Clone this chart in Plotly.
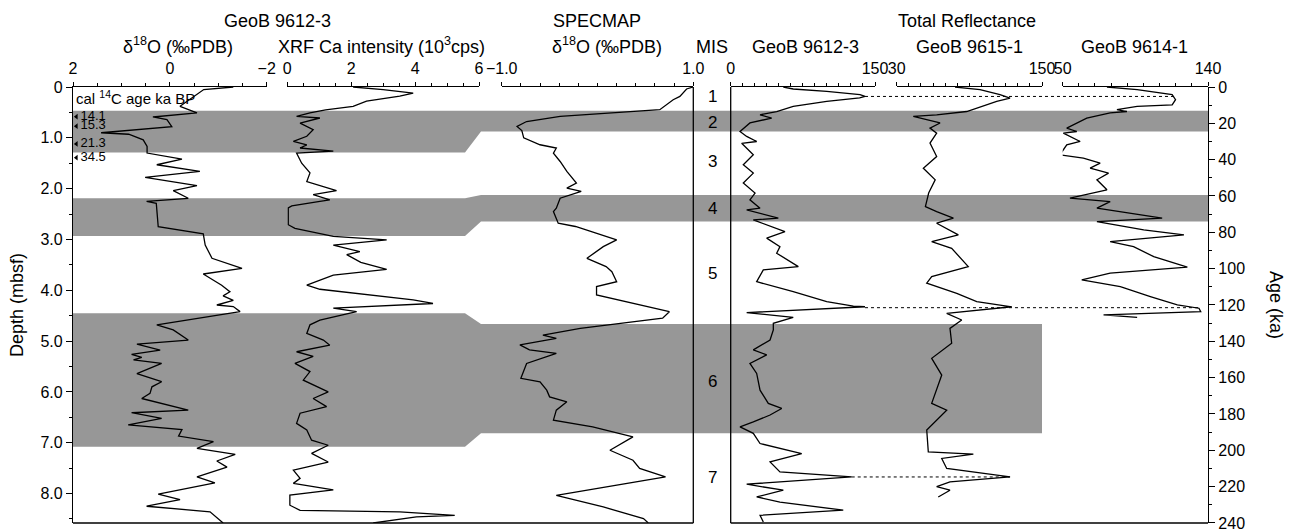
import plotly.graph_objects as go

# ---------------- data ----------------
# GeoB 9612-3 planktic d18O vs depth (mbsf)
D18O_DEPTH = [0.00, 0.05, 0.38, 0.51, 0.59, 0.64, 0.78, 0.88, 0.90, 0.93,
              1.04, 1.17, 1.30, 1.42, 1.53, 1.66, 1.78, 1.94, 2.04, 2.19,
              2.25, 2.29, 2.75, 2.89, 3.11, 3.37, 3.57, 3.68, 3.90, 4.03,
              4.11, 4.20, 4.29, 4.32, 4.42, 4.68, 4.78, 4.98, 5.06, 5.18,
              5.26, 5.32, 5.37, 5.44, 5.64, 5.80, 5.90, 6.03, 6.13, 6.36,
              6.41, 6.52, 6.65, 6.74, 6.87, 6.98, 7.11, 7.23, 7.36, 7.48,
              7.67, 7.79, 8.01, 8.12, 8.25, 8.36, 8.58]
D18O_VAL = [-1.31, -0.70, -0.21, -0.56, 0.35, 0.06, -0.04, 1.20, 1.42, 0.85,
            0.55, 0.47, 0.47, -0.25, 0.27, -0.62, 0.51, -0.56, -0.07, -0.38,
            0.48, 0.28, 0.24, -0.69, -0.73, -0.87, -1.49, -0.69, -1.07, -1.24,
            -1.10, -1.31, -0.97, -1.31, -1.45, 0.27, -0.07, -0.38, 0.68, 0.20,
            0.79, 0.58, 0.75, 0.17, 0.68, 0.17, 0.37, 0.41, 0.58, -0.38,
            0.79, 0.17, 0.86, -0.25, -0.18, -0.90, -0.56, -1.35, -0.97, -1.18,
            -0.56, -0.93, 0.24, -0.21, 0.48, -0.83, -1.10]

# GeoB 9612-3 XRF Ca intensity (10^3 cps) vs depth
XRF_DEPTH = [0.00, 0.05, 0.12, 0.18, 0.28, 0.38, 0.45, 0.51, 0.58, 0.61,
             0.71, 0.84, 0.97, 1.07, 1.14, 1.20, 1.26, 1.30, 1.50, 1.69,
             1.86, 1.99, 2.04, 2.12, 2.22, 2.25, 2.34, 2.38, 2.71, 2.78,
             2.94, 3.01, 3.11, 3.24, 3.30, 3.45, 3.59, 3.70, 3.90, 3.98,
             4.09, 4.19, 4.26, 4.35, 4.42, 4.59, 4.68, 4.85, 4.98, 5.08,
             5.21, 5.30, 5.44, 5.60, 5.77, 6.00, 6.13, 6.29, 6.42, 6.62,
             6.75, 6.95, 7.05, 7.21, 7.38, 7.54, 7.70, 7.80, 7.93, 8.03,
             8.23, 8.33, 8.36, 8.39, 8.43, 8.46, 8.53, 8.58]
XRF_VAL = [2.06, 3.00, 3.94, 3.52, 2.48, 2.06, 1.20, 0.71, 0.29, 1.02,
           0.40, 0.81, 0.61, 0.19, 0.61, 0.40, 1.44, 0.29, 0.45, 0.71,
           0.61, 1.33, 1.54, 0.81, 1.33, 1.02, 0.14, 0.03, 0.03, 0.24,
           1.44, 3.11, 1.44, 2.27, 1.86, 2.30, 3.11, 1.44, 0.61, 1.02,
           2.48, 3.94, 4.56, 1.44, 2.17, 1.02, 0.71, 0.61, 1.13, 1.33,
           0.29, 0.81, 0.24, 0.71, 0.50, 1.28, 0.81, 1.23, 0.40, 0.29,
           0.61, 0.76, 1.28, 0.76, 1.28, 0.19, 0.40, 0.19, 1.44, 0.08,
           0.08, 0.40, 3.52, 4.36, 5.24, 4.04, 3.31, 2.69]

# SPECMAP d18O vs age (ka)
SPEC_AGE = [0, 1.1, 5.2, 7.0, 12.5, 14.3, 16.2, 19.0, 21.7, 24.0,
            28.0, 31.8, 33.6, 36.4, 41.0, 46.5, 52.9, 55.7, 57.5, 61.2,
            66.7, 68.6, 75.0, 76.8, 80.5, 84.2, 87.9, 94.3, 98.9, 101.7,
            107.2, 109.9, 114.5, 119.1, 123.7, 127.3, 132.9, 136.6, 138.4, 142.0,
            144.7, 146.6, 152.2, 160.4, 162.3, 166.9, 170.6, 173.3, 177.9, 183.4,
            187.1, 192.6, 200.0, 205.5, 210.0, 214.7, 224.8, 231.2, 237.6, 240.0]
SPEC_VAL = [1.00, 0.93, 0.86, 0.79, 0.65, 0.13, -0.39, -0.74, -0.84, -0.79,
            -0.77, -0.60, -0.43, -0.46, -0.39, -0.32, -0.22, -0.32, -0.17, -0.39,
            -0.43, -0.46, -0.41, -0.23, -0.01, 0.20, 0.06, -0.11, 0.09, 0.15,
            0.20, -0.01, -0.01, 0.37, 0.75, 0.68, -0.18, -0.57, -0.43, -0.81,
            -0.71, -0.43, -0.74, -0.80, -0.60, -0.53, -0.50, -0.32, -0.43, -0.46,
            -0.05, 0.37, 0.13, 0.37, 0.44, 0.71, -0.43, 0.06, 0.48, 0.53]

# Total reflectance vs age
R12_AGE = [0, 1.1, 2.4, 4.2, 5.2, 6.0, 7.9, 10.7, 13.5, 15.3,
           17.1, 19.8, 24.5, 27.2, 30.0, 31.0, 37.3, 42.8, 47.4, 52.9,
           58.4, 62.1, 66.7, 67.6, 72.2, 73.2, 79.6, 83.2, 87.9, 91.5,
           98.9, 100.7, 107.2, 112.7, 118.2, 120.6, 121.0, 124.2, 126.8, 130.1,
           133.8, 139.3, 144.7, 147.5, 152.2, 157.7, 166.9, 174.2, 177.0, 180.6,
           184.4, 187.1, 190.7, 196.3, 201.8, 206.4, 211.9, 213.7, 214.7, 218.7,
           222.0, 225.7, 228.5, 233.0, 235.8, 239.5]
R12_VAL = [54.7, 65.0, 99.8, 134.4, 139.6, 134.0, 99.8, 65.0, 47.8, 30.5,
           42.6, 20.0, 9.7, 16.6, 27.0, 11.4, 23.5, 13.1, 23.5, 13.1,
           25.3, 20.0, 30.5, 16.6, 49.5, 23.5, 56.4, 37.4, 51.2, 47.8,
           70.3, 33.9, 27.0, 65.0, 99.8, 127.5, 139.6, 16.6, 65.0, 44.3,
           44.3, 40.9, 23.5, 37.4, 20.0, 27.0, 30.5, 39.1, 53.0, 40.9,
           23.5, 9.7, 23.5, 30.5, 73.8, 40.9, 51.2, 99.8, 125.8, 16.6,
           54.7, 27.0, 51.2, 117.0, 30.5, 33.9]

R15_AGE = [0, 1.5, 4.2, 6.1, 7.9, 13.5, 15.3, 16.2, 19.8, 22.6,
           25.4, 30.9, 38.3, 44.7, 51.1, 58.4, 65.8, 68.6, 72.2, 75.0,
           81.4, 85.1, 88.8, 98.9, 104.4, 108.0, 113.6, 118.2, 121.0, 124.6,
           128.3, 132.9, 141.1, 149.4, 158.6, 174.2, 177.9, 188.9, 200.9, 202.1,
           204.5, 210.0, 214.7, 217.4, 220.0, 222.0, 225.7]
R15_VAL = [78.2, 98.8, 115.3, 123.6, 112.6, 87.8, 63.0, 43.7, 65.8, 57.5,
           63.0, 57.5, 63.0, 52.0, 61.8, 56.4, 53.7, 63.0, 76.8, 63.0,
           80.9, 58.9, 75.4, 89.1, 58.9, 54.8, 79.6, 96.1, 125.0, 71.3,
           83.7, 74.0, 75.4, 58.9, 67.2, 58.9, 71.3, 54.8, 56.1, 93.3,
           67.2, 71.3, 123.6, 74.0, 63.0, 74.0, 64.3]

R14_AGE = [0, 1.5, 4.2, 7.0, 9.8, 10.7, 12.5, 13.5, 14.3, 17.1,
           22.6, 24.5, 25.4, 30.0, 31.8, 37.3, 39.1, 41.9, 44.7, 47.4,
           51.1, 56.6, 61.2, 63.1, 66.7, 72.2, 74.1, 76.8, 78.7, 81.4,
           85.1, 87.9, 93.4, 99.2, 102.5, 106.2, 109.9, 115.4, 120.0, 121.8,
           123.7, 125.5, 126.8]
R14_VAL = [77.4, 96.1, 117.8, 119.9, 117.8, 96.1, 83.6, 89.8, 79.4, 64.9,
           52.5, 58.7, 50.4, 60.8, 52.5, 48.3, 62.8, 73.2, 67.0, 78.4,
           71.2, 77.4, 54.5, 79.4, 71.2, 111.6, 71.2, 87.7, 100.2, 125.1,
           79.4, 93.9, 106.4, 127.2, 79.4, 61.8, 85.7, 104.3, 121.0, 134.4,
           135.5, 75.3, 96.1]

# calibrated 14C ages (ka BP) at depth
C14_DEPTH = [0.585, 0.77, 1.12, 1.39]
C14_AGE = ["14.1", "15.3", "21.3", "34.5"]

# Marine isotope stages
MIS_LABELS = ["1", "2", "3", "4", "5", "6", "7"]
MIS_LABEL_AGE = [5.2, 19.3, 41.2, 67.0, 102.9, 162.4, 215.2]
BAND_DEPTH_TOP = [0.467, 2.19, 4.45]
BAND_DEPTH_BOT = [1.29, 2.93, 7.08]
BAND_AGE_TOP = [13.1, 59.4, 130.5]
BAND_AGE_BOT = [24.5, 74.1, 190.6]

# reflectance peak tie-points (age, 9612-3 value, last core value, last core panel)
TIE_AGE = [5.2, 121.5, 214.7]
TIE_START = [139.6, 139.6, 125.8]
TIE_END = [119.9, 135.5, 123.6]
TIE_END_AXIS = ["x6", "x6", "x5"]

DEPTH_TICKS = [0, 1, 2, 3, 4, 5, 6, 7, 8]
DEPTH_TICKTEXT = ["0", "1.0", "2.0", "3.0", "4.0", "5.0", "6.0", "7.0", "8.0"]
AGE_TICKS = [0, 20, 40, 60, 80, 100, 120, 140, 160, 180, 200, 220, 240]
D_MAX = 8.58
A_MAX = 240

# ---------------- layout geometry ----------------
W, H = 1289, 529
L, R, T, B = 73, 81, 87, 6
PW = W - L - R


def dom(x0, x1):
    return [(x0 - L) / PW, (x1 - L) / PW]


DOMS = {
    "x1": dom(73, 266.7),
    "x2": dom(287.3, 479),
    "x3": dom(501.7, 693.3),
    "x4": dom(730.7, 875),
    "x5": dom(896.7, 1042),
    "x6": dom(1062.7, 1208),
}
RANGES = {
    "x1": [2, -2],
    "x2": [0, 6],
    "x3": [-1, 1],
    "x4": [0, 150],
    "x5": [30, 150],
    "x6": [50, 140],
}


def to_paper(ax, v):
    d, r = DOMS[ax], RANGES[ax]
    return d[0] + (v - r[0]) / (r[1] - r[0]) * (d[1] - d[0])


def age_to_depth(a):
    return a * D_MAX / A_MAX


FONT = "Liberation Sans, Arial, Helvetica, sans-serif"
TICK_SIZE = 16
HDR_SIZE = 18
LW = 1.3
fig = go.Figure()

line = dict(color="black", width=LW)
fig.add_trace(go.Scatter(x=D18O_VAL, y=D18O_DEPTH, xaxis="x", yaxis="y", mode="lines", line=line))
fig.add_trace(go.Scatter(x=XRF_VAL, y=XRF_DEPTH, xaxis="x2", yaxis="y", mode="lines", line=line))
fig.add_trace(go.Scatter(x=SPEC_VAL, y=SPEC_AGE, xaxis="x3", yaxis="y2", mode="lines", line=line))
fig.add_trace(go.Scatter(x=R12_VAL, y=R12_AGE, xaxis="x4", yaxis="y2", mode="lines", line=line))
fig.add_trace(go.Scatter(x=R15_VAL, y=R15_AGE, xaxis="x5", yaxis="y2", mode="lines", line=line))
fig.add_trace(go.Scatter(x=R14_VAL, y=R14_AGE, xaxis="x6", yaxis="y2", mode="lines", line=line))

# 14C dates
fig.add_trace(go.Scatter(x=[1.93] * len(C14_DEPTH), y=C14_DEPTH, xaxis="x", yaxis="y",
                         mode="markers+text", text=C14_AGE, textposition="middle right",
                         marker=dict(symbol="triangle-left", size=5, color="black"),
                         textfont=dict(size=13, family=FONT, color="black")))


def top_axis(key, anchor, tick0, dtick, minor_dtick, fmt=None):
    d = dict(domain=DOMS[key], range=RANGES[key], anchor=anchor, side="top",
             showline=True, linecolor="black", linewidth=LW, mirror=False,
             ticks="outside", ticklen=4, tickwidth=LW, tickcolor="black",
             tickmode="linear", tick0=tick0, dtick=dtick,
             minor=dict(ticks="outside", ticklen=3, tickwidth=1, tickcolor="black",
                        tickmode="linear", tick0=tick0, dtick=minor_dtick),
             showgrid=False, zeroline=False, ticklabelstandoff=1, automargin=False,
             tickfont=dict(size=TICK_SIZE, family=FONT, color="black"))
    if fmt:
        d["tickformat"] = fmt
    return d


fig.update_layout(
    width=W, height=H,
    margin=dict(l=L, r=R, t=T, b=B, autoexpand=False),
    plot_bgcolor="white", paper_bgcolor="white",
    showlegend=False,
    font=dict(family=FONT, size=TICK_SIZE, color="black"),
    xaxis=top_axis("x1", "y", 0, 2, 0.5),
    xaxis2=top_axis("x2", "y", 0, 2, 0.5),
    xaxis3=top_axis("x3", "y2", -1, 2, 0.2, ".1f"),
    xaxis4=top_axis("x4", "y2", 0, 150, 12.5),
    xaxis5=top_axis("x5", "y2", 30, 120, 10),
    xaxis6=top_axis("x6", "y2", 50, 90, 10),
    yaxis=dict(domain=[0, 1], range=[D_MAX, 0], anchor="x", side="left",
               showline=True, linecolor="black", linewidth=LW,
               ticks="outside", ticklen=6, tickwidth=LW, tickcolor="black",
               tickmode="array", tickvals=DEPTH_TICKS, ticktext=DEPTH_TICKTEXT,
               minor=dict(ticks="outside", ticklen=3, tickwidth=1, tickcolor="black",
                          tickmode="linear", tick0=0, dtick=0.5),
               showgrid=False, zeroline=False, automargin=False,
               tickfont=dict(size=TICK_SIZE, family=FONT, color="black")),
    yaxis2=dict(domain=[0, 1], range=[A_MAX + 0.05, 0], overlaying="y", anchor="free", position=1.0,
                side="right", showline=True, linecolor="black", linewidth=LW,
                ticks="outside", ticklen=6, tickwidth=LW, tickcolor="black",
                tickmode="array", tickvals=AGE_TICKS, ticklabeloverflow="allow",
                minor=dict(ticks="outside", ticklen=3, tickwidth=1, tickcolor="black",
                           tickmode="linear", tick0=0, dtick=10),
                showgrid=False, zeroline=False, automargin=False,
                tickfont=dict(size=TICK_SIZE, family=FONT, color="black")),
)

# grey MIS bands (depth domain on the left, age domain from SPECMAP on)
X_SLANT0 = (465 - L) / PW
X_SLANT1 = (481 - L) / PW
band_ends = [1.0, 1.0, DOMS["x5"][1]]
shapes = []
for dt, db, at, ab, xe in zip(BAND_DEPTH_TOP, BAND_DEPTH_BOT, BAND_AGE_TOP, BAND_AGE_BOT, band_ends):
    atd, abd = age_to_depth(at), age_to_depth(ab)
    path = (f"M 0,{dt} L {X_SLANT0},{dt} L {X_SLANT1},{atd} L {xe},{atd} "
            f"L {xe},{abd} L {X_SLANT1},{abd} L {X_SLANT0},{db} L 0,{db} Z")
    shapes.append(dict(type="path", path=path, xref="paper", yref="y",
                       fillcolor="#979797", line=dict(width=0), layer="below"))

# frame lines
frame = dict(color="black", width=LW)
shapes += [
    dict(type="line", xref="paper", yref="paper", x0=0, x1=DOMS["x3"][1], y0=0, y1=0, line=frame),
    dict(type="line", xref="paper", yref="paper", x0=DOMS["x3"][1], x1=DOMS["x3"][1], y0=0, y1=1, line=frame),
    dict(type="line", xref="paper", yref="paper", x0=DOMS["x4"][0], x1=DOMS["x4"][0], y0=0, y1=1, line=frame),
    dict(type="line", xref="paper", yref="paper", x0=DOMS["x4"][0], x1=1, y0=0, y1=0, line=frame),
]
# dotted tie lines between reflectance peaks
for a, v0, v1, ax in zip(TIE_AGE, TIE_START, TIE_END, TIE_END_AXIS):
    shapes.append(dict(type="line", xref="paper", yref="y2",
                       x0=to_paper("x4", v0), x1=to_paper(ax, v1), y0=a, y1=a,
                       line=dict(color="black", width=1, dash="dot")))
fig.update_layout(shapes=shapes)


def px_x(x):
    return (x - L) / PW


def px_y(y):
    return (H - B - y) / (H - T - B)


ann = []


def hdr(text, x, y, size=HDR_SIZE):
    ann.append(dict(text=text, x=px_x(x), y=px_y(y), xref="paper", yref="paper",
                    showarrow=False, xanchor="center", yanchor="middle",
                    font=dict(size=size, family=FONT, color="black")))


hdr("GeoB 9612-3", 277, 21)
hdr("δ<sup>18</sup>O (‰PDB)", 178, 46)
hdr("XRF Ca intensity (10<sup>3</sup>cps)", 381, 46)
hdr("SPECMAP", 597, 21)
hdr("δ<sup>18</sup>O (‰PDB)", 607, 46)
hdr("MIS", 712, 47)
hdr("GeoB 9612-3", 805, 47)
hdr("Total Reflectance", 967, 21)
hdr("GeoB 9615-1", 969, 47)
hdr("GeoB 9614-1", 1134, 47)

mis_x = (DOMS["x3"][1] + DOMS["x4"][0]) / 2
for lab, a in zip(MIS_LABELS, MIS_LABEL_AGE):
    ann.append(dict(text=lab, x=mis_x, y=a, xref="paper", yref="y2", showarrow=False,
                    xanchor="center", yanchor="middle",
                    font=dict(size=17, family=FONT, color="black")))

ann.append(dict(text="cal <sup>14</sup>C age ka BP", x=1.97, y=0.21, xref="x", yref="y",
                showarrow=False, xanchor="left", yanchor="middle",
                font=dict(size=15, family=FONT, color="black")))
ann.append(dict(text="Depth (mbsf)", x=px_x(17), y=0.5, xref="paper", yref="paper",
                textangle=-90, showarrow=False, xanchor="center", yanchor="middle",
                font=dict(size=18, family=FONT, color="black")))
ann.append(dict(text="Age (ka)", x=px_x(1276), y=0.5, xref="paper", yref="paper",
                textangle=90, showarrow=False, xanchor="center", yanchor="middle",
                font=dict(size=18, family=FONT, color="black")))
fig.update_layout(annotations=ann)

fig.write_html("out.html", config={"displayModeBar": False},
               post_script="document.body.style.margin='0px';")
